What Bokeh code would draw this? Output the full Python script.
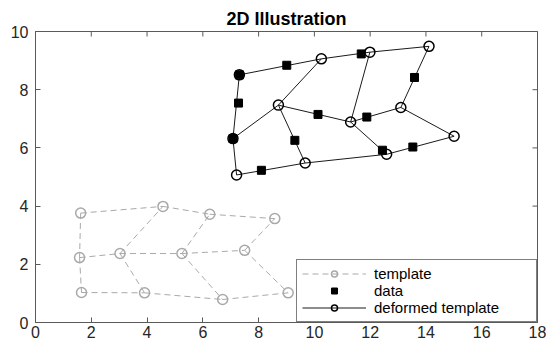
import math
from bokeh.plotting import figure
from bokeh.models import Range1d, FixedTicker, Legend, LegendItem
from bokeh.embed import file_html
from bokeh.resources import INLINE

# template nodes: rows top, middle, bottom; 4 columns each
template_x = [1.62, 4.57, 6.25, 8.58,
              1.58, 3.03, 5.25, 7.50,
              1.65, 3.91, 6.71, 9.06]
template_y = [3.76, 3.99, 3.72, 3.57,
              2.23, 2.37, 2.37, 2.48,
              1.03, 1.02, 0.79, 1.02]

# deformed template nodes (same ordering)
deformed_x = [7.31, 10.25, 11.99, 14.11,
              7.08, 8.71, 11.30, 13.10,
              7.21, 9.67, 12.59, 15.01]
deformed_y = [8.51, 9.06, 9.29, 9.49,
              6.32, 7.47, 6.89, 7.39,
              5.07, 5.48, 5.78, 6.40]

# data points
data_x = [9.01, 11.68, 13.59, 7.28, 10.13, 11.88, 9.30, 7.08, 7.31, 8.10, 12.44, 13.53]
data_y = [8.84, 9.23, 8.42, 7.54, 7.15, 7.06, 6.26, 6.32, 8.51, 5.23, 5.92, 6.03]

# mesh connectivity (node indices)
edges = [(0, 1), (1, 2), (2, 3), (4, 5), (5, 6), (6, 7), (8, 9), (9, 10), (10, 11),
         (0, 4), (4, 8),
         (5, 1), (5, 9), (6, 2), (6, 10), (7, 3), (7, 11)]

x_ticks = list(range(0, 19, 2))
y_ticks = list(range(0, 11, 2))
X_MIN, X_MAX, Y_MIN, Y_MAX = 0, 18, 0, 10

FONT = "Liberation Sans"
AX = "#5a5a5a"

p = figure(width=546, height=343, output_backend="svg", toolbar_location=None,
           x_range=Range1d(X_MIN, X_MAX), y_range=Range1d(Y_MIN, Y_MAX),
           min_border_left=35, min_border_right=9, min_border_top=31, min_border_bottom=21,
           title="2D Illustration")
p.title.text_font = FONT
p.title.text_font_size = "18px"
p.title.text_font_style = "bold"
p.title.text_color = "black"
p.title.align = "center"
p.title.standoff = 6
p.xgrid.visible = False
p.ygrid.visible = False
p.outline_line_color = AX
p.outline_line_width = 1
p.background_fill_color = "white"

xa = p.below[0]
ya = p.left[0]
for ax, ticks in [(xa, x_ticks), (ya, y_ticks)]:
    ax.ticker = FixedTicker(ticks=ticks)
    ax.axis_line_color = AX
    ax.major_tick_line_color = AX
    ax.major_tick_in = 5
    ax.major_tick_out = 0
    ax.minor_tick_line_color = None
    ax.major_label_text_font = FONT
    ax.major_label_text_font_size = "16px"
    ax.major_label_text_color = "#262626"
xa.major_label_standoff = 3
ya.major_label_standoff = 7

# mirrored ticks on the top and right edges (half of each dash is clipped by the frame)
p.scatter(x_ticks, [Y_MAX] * len(x_ticks), marker="dash", size=10, angle=math.pi / 2,
          line_color=AX, line_width=1)
p.scatter([X_MAX] * len(y_ticks), y_ticks, marker="dash", size=10,
          line_color=AX, line_width=1)

def segs(xs, ys):
    return [[xs[a], xs[b]] for a, b in edges], [[ys[a], ys[b]] for a, b in edges]

tx, ty = segs(template_x, template_y)
dx, dy = segs(deformed_x, deformed_y)

GRAY = "#a9a9a9"
r_tl = p.multi_line(tx, ty, line_color=GRAY, line_width=1, line_dash="6 4")
r_tc = p.scatter(template_x, template_y, marker="circle", size=10, fill_color=None,
                 line_color=GRAY, line_width=1.5)
r_d = p.multi_line(dx, dy, line_color="black", line_width=0.9)
r_data = p.scatter(data_x, data_y, marker="square", size=8, fill_color="black", line_color="black")
r_dc = p.scatter(deformed_x, deformed_y, marker="circle", size=10, fill_color=None,
                 line_color="black", line_width=1.5)

legend = Legend(items=[
    LegendItem(label="template", renderers=[r_tl, r_tc]),
    LegendItem(label="data", renderers=[r_data]),
    LegendItem(label="deformed template", renderers=[r_d, r_dc]),
], location="bottom_right", margin=0, padding=5, spacing=0,
    label_height=15, glyph_height=15, glyph_width=64, label_standoff=8, label_width=157,
    border_line_color="black", border_line_width=1,
    label_text_font=FONT, label_text_font_size="15px", label_text_color="black",
    background_fill_color="white", background_fill_alpha=1)
p.add_layout(legend)

open("out.html", "w").write(file_html(p, INLINE))
